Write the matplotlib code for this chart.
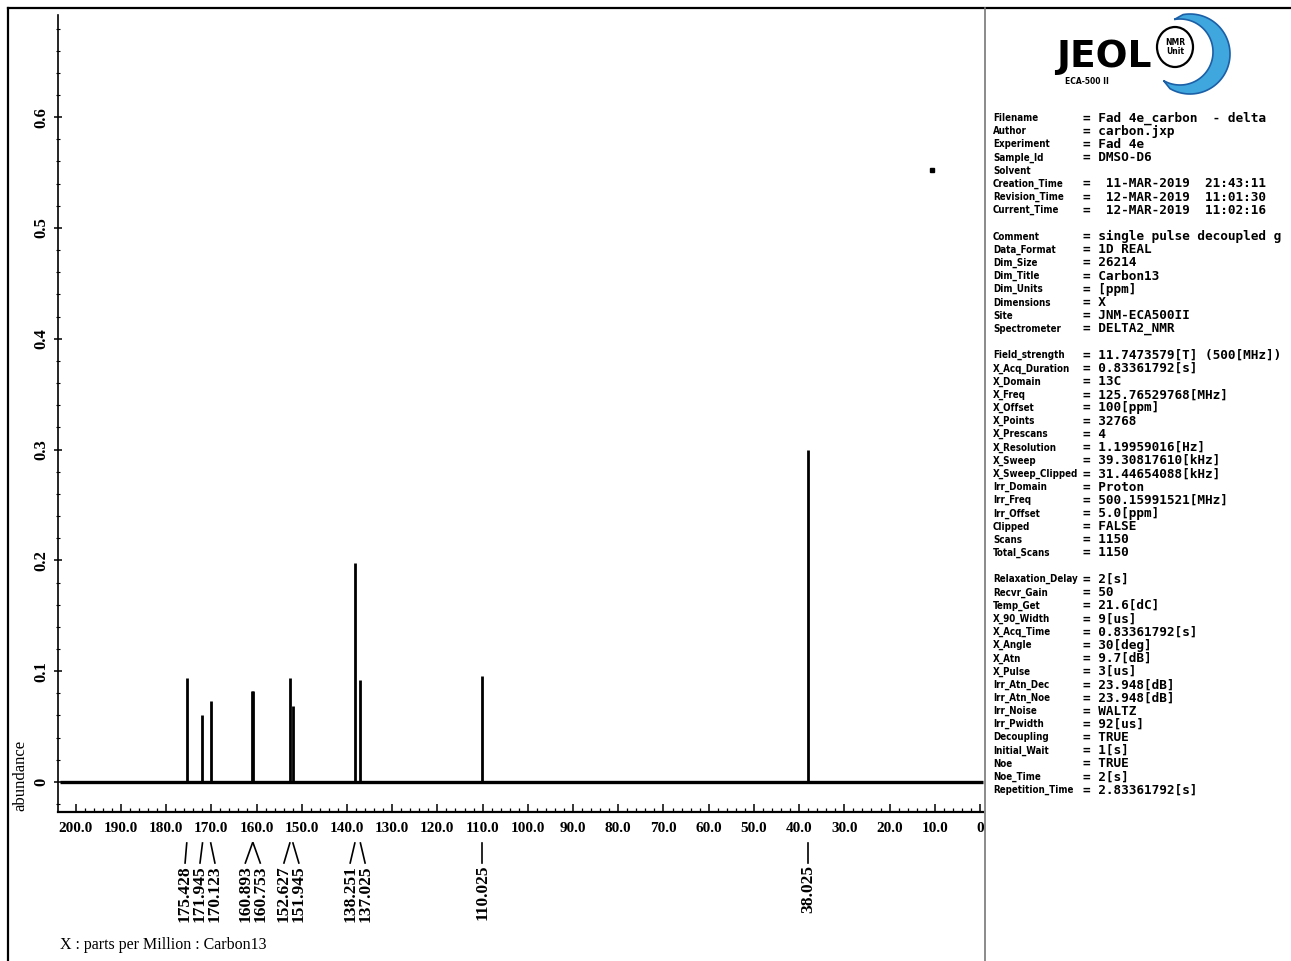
import matplotlib
matplotlib.use('Agg')
import matplotlib.pyplot as plt
import numpy as np
from matplotlib import font_manager, transforms
from matplotlib.font_manager import FontProperties
from matplotlib.lines import Line2D
from matplotlib.patches import Ellipse, Polygon

# ---------------- data ----------------
peak_ppm = [175.428, 171.945, 170.123, 160.893, 160.753, 152.627, 151.945,
            138.251, 137.025, 110.025, 38.025]
peak_height = [0.094, 0.060, 0.073, 0.082, 0.082, 0.094, 0.069,
               0.198, 0.092, 0.096, 0.300]
peak_labels = ["175.428", "171.945", "170.123", "160.893", "160.753",
               "152.627", "151.945", "138.251", "137.025", "110.025", "38.025"]
artifact_ppm = [10.6]
artifact_height = [0.552]

x_ticks = list(range(200, -1, -10))
x_tick_labels = [f"{v:.1f}" if v else "0" for v in x_ticks]
y_ticks = [0, 0.1, 0.2, 0.3, 0.4, 0.5, 0.6]
y_tick_labels = ["0", "0.1", "0.2", "0.3", "0.4", "0.5", "0.6"]

param_keys = [
    "Filename", "Author", "Experiment", "Sample_Id", "Solvent", "Creation_Time",
    "Revision_Time", "Current_Time", "",
    "Comment", "Data_Format", "Dim_Size", "Dim_Title", "Dim_Units", "Dimensions",
    "Site", "Spectrometer", "",
    "Field_strength", "X_Acq_Duration", "X_Domain", "X_Freq", "X_Offset",
    "X_Points", "X_Prescans", "X_Resolution", "X_Sweep", "X_Sweep_Clipped",
    "Irr_Domain", "Irr_Freq", "Irr_Offset", "Clipped", "Scans", "Total_Scans", "",
    "Relaxation_Delay", "Recvr_Gain", "Temp_Get", "X_90_Width", "X_Acq_Time",
    "X_Angle", "X_Atn", "X_Pulse", "Irr_Atn_Dec", "Irr_Atn_Noe", "Irr_Noise",
    "Irr_Pwidth", "Decoupling", "Initial_Wait", "Noe", "Noe_Time", "Repetition_Time",
]
param_values = [
    "= Fad 4e_carbon  - delta", "= carbon.jxp", "= Fad 4e", "= DMSO-D6", "",
    "=  11-MAR-2019  21:43:11", "=  12-MAR-2019  11:01:30", "=  12-MAR-2019  11:02:16", "",
    "= single pulse decoupled g", "= 1D REAL", "= 26214", "= Carbon13", "= [ppm]",
    "= X", "= JNM-ECA500II", "= DELTA2_NMR", "",
    "= 11.7473579[T] (500[MHz])", "= 0.83361792[s]", "= 13C", "= 125.76529768[MHz]",
    "= 100[ppm]", "= 32768", "= 4", "= 1.19959016[Hz]", "= 39.30817610[kHz]",
    "= 31.44654088[kHz]", "= Proton", "= 500.15991521[MHz]", "= 5.0[ppm]",
    "= FALSE", "= 1150", "= 1150", "",
    "= 2[s]", "= 50", "= 21.6[dC]", "= 9[us]", "= 0.83361792[s]", "= 30[deg]",
    "= 9.7[dB]", "= 3[us]", "= 23.948[dB]", "= 23.948[dB]", "= WALTZ", "= 92[us]",
    "= TRUE", "= 1[s]", "= TRUE", "= 2[s]", "= 2.83361792[s]",
]

# ---------------- fonts ----------------
def find_font(patterns):
    best = None
    for f in font_manager.fontManager.ttflist:
        s = (f.name + ' ' + f.fname).lower().replace(' ', '')
        if f.style != 'normal':
            continue
        for rank, pat in enumerate(patterns):
            if pat in s:
                w = f.weight
                if isinstance(w, str):
                    w = 700 if 'bold' in w.lower() else 400
                score = (rank, abs(int(w) - 700))
                if best is None or score < best[0]:
                    best = (score, f.fname)
    return best[1] if best else None

narrow_path = find_font(['liberationsansnarrow', 'dejavusanscondensed',
                         'notosans-condensed', 'opensans-condensed',
                         'opensans_condensed', 'robotocondensed'])
if narrow_path:
    key_fp = FontProperties(fname=narrow_path, size=7.0)
else:
    key_fp = FontProperties(family='Liberation Sans', weight='bold', size=6.4)
val_fp = FontProperties(family='DejaVu Sans Mono', weight='bold', size=9.2)
serif = 'Liberation Serif'

# ---------------- figure ----------------
W, H = 1291, 961
fig = plt.figure(figsize=(W / 100, H / 100), dpi=100)
fig.patch.set_facecolor('white')

def fx(x):
    return x / W

def fy(y):
    return 1 - y / H

# outer frame and separator
fig.add_artist(Line2D([fx(8), 1], [fy(8), fy(8)], color='black', lw=1.6))
fig.add_artist(Line2D([fx(8), fx(8)], [fy(8), 0], color='black', lw=1.6))
fig.add_artist(Line2D([fx(985), fx(985)], [fy(8), 0], color='#777777', lw=1.2))

# ---------------- spectrum axes ----------------
ax = fig.add_axes([fx(58), fy(812), (985 - 58) / W, (812 - 15) / H])
ax.set_xlim(203.9, -1.1)
ax.set_ylim(-0.0271, 0.6922)

ax.plot([203.5, -0.7], [0, 0], color='black', lw=2.4, solid_capstyle='butt')
ax.vlines(peak_ppm, 0, peak_height, color='black', lw=2.0)
ax.plot(artifact_ppm, artifact_height, 's', color='black', ms=2.5)

for s in ['top', 'right']:
    ax.spines[s].set_visible(False)
ax.spines['left'].set_linewidth(1.2)
ax.spines['bottom'].set_linewidth(1.6)
ax.spines['bottom'].set_bounds(203.9, -0.7)

ax.set_xticks(x_ticks)
ax.set_xticks(np.arange(0, 201, 2), minor=True)
ax.set_xticklabels(x_tick_labels, fontfamily=serif, fontsize=11, fontweight='bold')
ax.tick_params(axis='x', which='major', direction='in', length=6, width=1.1, pad=7)
ax.tick_params(axis='x', which='minor', direction='in', length=3, width=0.9)

ax.set_yticks(y_ticks)
ax.set_yticks(np.arange(-0.02, 0.69, 0.02), minor=True)
ax.set_yticklabels(y_tick_labels, fontfamily=serif, fontsize=12, fontweight='bold')
for lab in ax.get_yticklabels():
    lab.set_rotation(90)
    lab.set_va('center')
ax.tick_params(axis='y', which='major', direction='inout', length=6, width=1.1, pad=3)
ax.tick_params(axis='y', which='minor', direction='inout', length=3, width=0.8)

fig.text(fx(20), fy(775), "abundance", rotation=90, ha='center', va='center',
         fontfamily=serif, fontsize=12)
fig.text(fx(60), fy(945), "X : parts per Million : Carbon13", ha='left', va='center',
         fontfamily=serif, fontsize=11.5)

# ---------------- peak labels ----------------
def spread(positions, gap):
    order = sorted(range(len(positions)), key=lambda i: -positions[i])
    groups = [[i] for i in order]

    def place(g):
        c = np.mean([positions[i] for i in g])
        n = len(g)
        return [c + gap * ((n - 1) / 2 - k) for k in range(n)]

    changed = True
    while changed:
        changed = False
        for j in range(len(groups) - 1):
            a = place(groups[j])
            b = place(groups[j + 1])
            if a[-1] - b[0] < gap:
                groups[j] = groups[j] + groups[j + 1]
                del groups[j + 1]
                changed = True
                break
    result = [0.0] * len(positions)
    for g in groups:
        for i, p in zip(g, place(g)):
            result[i] = p
    return result

label_x = spread(peak_ppm, 3.3)
btrans = transforms.blended_transform_factory(ax.transData, fig.transFigure)
for p, lx, txt in zip(peak_ppm, label_x, peak_labels):
    ax.add_line(Line2D([p, lx], [fy(843), fy(863)], transform=btrans, color='black',
                       lw=1.2, clip_on=False))
    ax.text(lx, fy(865), txt, transform=btrans, rotation=90, ha='center', va='top',
            fontfamily=serif, fontsize=12.5, fontweight='bold', clip_on=False)

# ---------------- parameter panel ----------------
y0, dy = 118, 13.18
for i, (k, v) in enumerate(zip(param_keys, param_values)):
    yy = fy(y0 + i * dy)
    if k:
        fig.text(fx(993), yy, k, ha='left', va='center', fontproperties=key_fp)
    if v:
        fig.text(fx(1083), yy, v, ha='left', va='center', fontproperties=val_fp)

# ---------------- logo ----------------
lax = fig.add_axes([fx(1040), fy(100), 251 / W, 100 / H])
lax.set_xlim(1040, 1291)
lax.set_ylim(100, 0)
lax.axis('off')

cx, cy, r_out = 1190, 54, 40
icx, icy, r_in = 1180, 52, 33
th = np.radians(np.linspace(-100, 120, 80))
outer = np.column_stack([cx + r_out * np.cos(th), cy + r_out * np.sin(th)])
inner = np.column_stack([icx + r_in * np.cos(th[::-1]), icy + r_in * np.sin(th[::-1])])
lax.add_patch(Polygon(np.vstack([outer, inner]), closed=True, facecolor='#3fa6de',
                      edgecolor='#1b5fa6', lw=1.2))
lax.add_patch(Ellipse((1175, 47), 36, 40, facecolor='white', edgecolor='black', lw=1.6))
lax.text(1175, 47, "NMR\nUnit", ha='center', va='center', fontsize=5.5,
         fontweight='bold', linespacing=1.0)
lax.text(1104, 57, "JEOL", ha='center', va='center', fontsize=27, fontweight='heavy',
         fontfamily='DejaVu Sans')
lax.text(1087, 81, "ECA-500 II", ha='center', va='center', fontsize=5.5,
         fontweight='bold')

fig.savefig('out.png', dpi=100)
